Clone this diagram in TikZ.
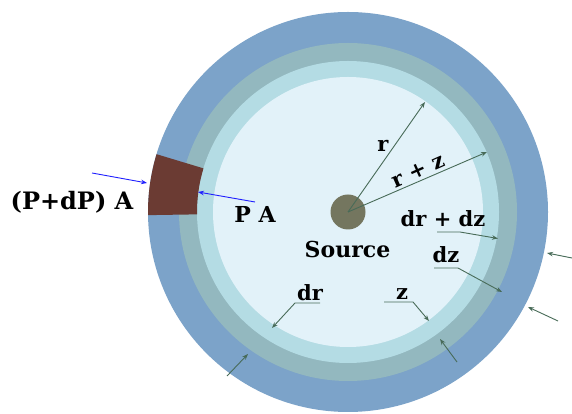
\documentclass[tikz,border=0pt]{standalone}
\usepackage{fontspec}
\setmainfont{DejaVu Serif}
\usetikzlibrary{arrows.meta}
\definecolor{ringA}{HTML}{7CA3C9}
\definecolor{ringB}{HTML}{93B8BF}
\definecolor{ringC}{HTML}{B4DCE4}
\definecolor{ringD}{HTML}{E2F2F9}
\definecolor{srccol}{HTML}{74765F}
\definecolor{wedgecol}{HTML}{6B3B33}
\definecolor{arrowgreen}{HTML}{486B58}
\definecolor{arrowblue}{HTML}{1F1FFF}
\begin{document}
\begin{tikzpicture}[x=1pt,y=1pt,
  lbl/.style={font=\fontsize{21}{25}\selectfont\bfseries, inner sep=0pt, anchor=base},
  biglbl/.style={font=\fontsize{22}{26}\selectfont\bfseries, inner sep=0pt, anchor=base},
  garrow/.style={draw=arrowgreen, line width=0.9pt, -{Stealth[length=6pt,width=4.5pt]}},
  barrow/.style={draw=arrowblue, line width=0.9pt, -{Stealth[length=6pt,width=4.5pt]}}]
\useasboundingbox (0,0) rectangle (572,414);
\coordinate (C) at (348,202);
% rings
\fill[ringA] (C) circle[radius=200];
\fill[ringB] (C) circle[radius=169];
\fill[ringC] (C) circle[radius=151];
\fill[ringD] (C) circle[radius=135];
% wedge
\fill[wedgecol] ([shift={(163.2:200)}]C) arc[start angle=163.2,end angle=180.9,radius=200]
  -- ([shift={(180.9:151)}]C) arc[start angle=180.9,end angle=163.2,radius=151] -- cycle;
% source
\node[circle, fill=srccol, minimum size=35pt, inner sep=0pt] (src) at (C) {};
% labels
\node[biglbl, font=\fontsize{24}{28}\selectfont\bfseries] (pdpa) at (72,204) {(P+dP) A};
\node[biglbl] (pa) at (255,191) {P A};
\node[biglbl] (source) at (347.5,156) {Source};
\node[lbl] (drdz) at (443,187) {dr + dz};
\node[lbl] (dz) at (446,151) {dz};
\node[lbl] (z) at (402,114) {z};
\node[lbl] (dr) at (310,113) {dr};
\node[lbl] (r) at (383,262) {r};
\node[lbl, anchor=center, rotate=24] (rz) at (418,243) {r + z};
% coordinates
\coordinate (rtip) at (425,312);
\coordinate (rztip) at (487,262);
\coordinate (b1tail) at (92,241);
\coordinate (b1tip) at (147,231);
\coordinate (b2tail) at (255,212);
\coordinate (b2tip) at (198,222);
\coordinate (drdzA) at (437,182);
\coordinate (drdzB) at (460,182);
\coordinate (drdztip) at (498,175.5);
\coordinate (dzA) at (434,146);
\coordinate (dzB) at (458,146);
\coordinate (dztip) at (502,122);
\coordinate (zA) at (384,112);
\coordinate (zB) at (413,112);
\coordinate (ztip) at (429,93);
\coordinate (drA) at (320,111);
\coordinate (drB) at (295,111);
\coordinate (drtip) at (272,86);
\coordinate (blTail) at (227,38);
\coordinate (blTip) at (248,60);
\coordinate (brTail) at (457,52);
\coordinate (brTip) at (440,75);
\coordinate (r1Tail) at (572,156);
\coordinate (r1Tip) at (547,161);
\coordinate (r2Tail) at (558,93);
\coordinate (r2Tip) at (528,107);
% connectors
\draw[garrow] (src.center) -- (rtip);
\draw[garrow] (src.center) -- (rztip);
\draw[barrow] (b1tail) -- (b1tip);
\draw[barrow] (b2tail) -- (b2tip);
\draw[garrow] (drdzA) -- (drdzB) -- (drdztip);
\draw[garrow] (dzA) -- (dzB) -- (dztip);
\draw[garrow] (zA) -- (zB) -- (ztip);
\draw[garrow] (drA) -- (drB) -- (drtip);
\draw[garrow] (blTail) -- (blTip);
\draw[garrow] (brTail) -- (brTip);
\draw[garrow] (r1Tail) -- (r1Tip);
\draw[garrow] (r2Tail) -- (r2Tip);
\end{tikzpicture}
\end{document}
